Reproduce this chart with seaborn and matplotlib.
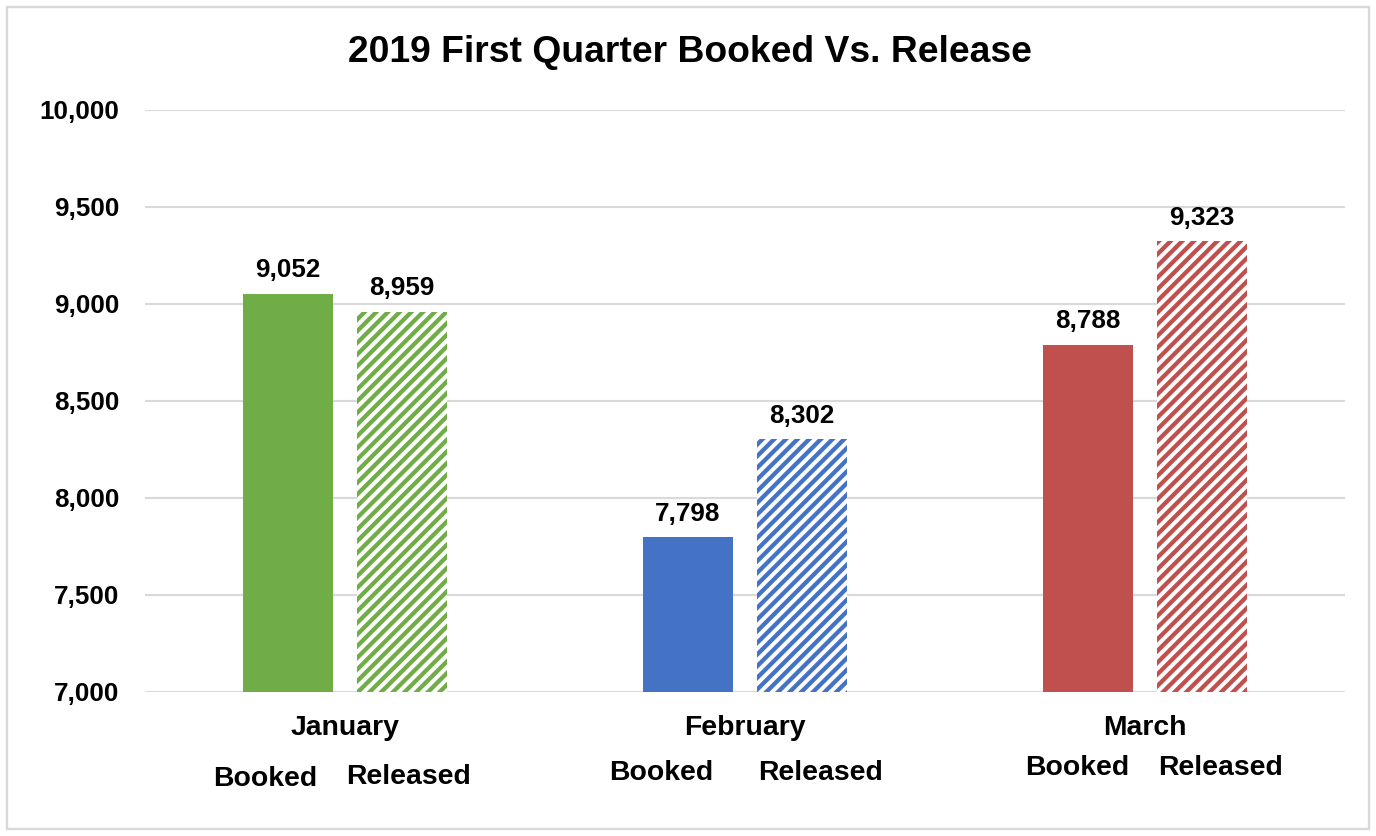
import matplotlib
matplotlib.use("Agg")
import matplotlib.pyplot as plt
import matplotlib.patches as mpatches
import pandas as pd
import seaborn as sns

# Chart data
months = ["January", "February", "March"]
booked = [9052, 7798, 8788]
released = [8959, 8302, 9323]
month_colors = ["#70AD47", "#4472C4", "#C0504D"]
yticks = [7000, 7500, 8000, 8500, 9000, 9500, 10000]

# Layout tweaks for the hand-placed "Booked / Released" captions
caption_dx = [(-0.20, 0.16), (-0.21, 0.19), (-0.17, 0.19)]
caption_y = [(-0.150, -0.146), (-0.139, -0.139), (-0.131, -0.131)]

sns.set_style("white")
plt.rcParams["font.family"] = ["Liberation Sans", "DejaVu Sans"]
plt.rcParams["font.weight"] = "bold"
plt.rcParams["text.color"] = "black"
plt.rcParams["xtick.color"] = "black"
plt.rcParams["ytick.color"] = "black"
plt.rcParams["hatch.linewidth"] = 2.2

df = pd.DataFrame({
    "month": months * 2,
    "kind": ["Booked"] * 3 + ["Released"] * 3,
    "value": booked + released,
})

fig = plt.figure(figsize=(1376 / 140, 836 / 140), dpi=140)
ax = fig.add_axes([145 / 1376, 1 - 692 / 836, 1200 / 1376, 582 / 836])

sns.barplot(data=df, x="month", y="value", hue="kind", order=months,
            width=0.57, gap=0.21, errorbar=None, legend=False, ax=ax)

booked_bars, released_bars = ax.containers[0], ax.containers[1]
for bar, c in zip(booked_bars, month_colors):
    bar.set_facecolor(c)
    bar.set_edgecolor(c)
    bar.set_linewidth(0)
for bar, c in zip(released_bars, month_colors):
    bar.set_facecolor("white")
    bar.set_edgecolor(c)
    bar.set_hatch("////")
    bar.set_linewidth(0)

for cont in ax.containers:
    ax.bar_label(cont, labels=[f"{v:,.0f}" for v in cont.datavalues],
                 padding=6, fontsize=13.4, fontweight="bold", color="black")

ax.set_ylim(7000, 10000)
ax.set_xlim(-0.5, 2.5)
ax.set_yticks(yticks)
ax.set_yticklabels([f"{v:,}" for v in yticks])
ax.set_xlabel("")
ax.set_ylabel("")
ax.grid(axis="y", color="#d9d9d9", linewidth=1.1)
ax.set_axisbelow(True)
for s in ax.spines.values():
    s.set_visible(False)
ax.tick_params(axis="y", length=0, pad=13, labelsize=13.4, labelcolor="black")
ax.tick_params(axis="x", length=0, pad=12, labelsize=14.6, labelcolor="black")

for i in range(len(months)):
    ax.text(i + caption_dx[i][0], caption_y[i][0], "Booked", transform=ax.get_xaxis_transform(),
            ha="center", va="center", fontsize=14.6, fontweight="bold", color="black")
    ax.text(i + caption_dx[i][1], caption_y[i][1], "Released", transform=ax.get_xaxis_transform(),
            ha="center", va="center", fontsize=14.6, fontweight="bold", color="black")

fig.text(0.5015, 1 - 52 / 836, "2019 First Quarter Booked Vs. Release",
         ha="center", va="center", fontsize=19.2, fontweight="bold", color="black")

fig.patches.append(mpatches.Rectangle((7 / 1376, 7 / 836), 1362 / 1376, 822 / 836,
                                      transform=fig.transFigure, fill=False,
                                      edgecolor="#d9d9d9", linewidth=1.2))

fig.savefig("out.png", dpi=140)
